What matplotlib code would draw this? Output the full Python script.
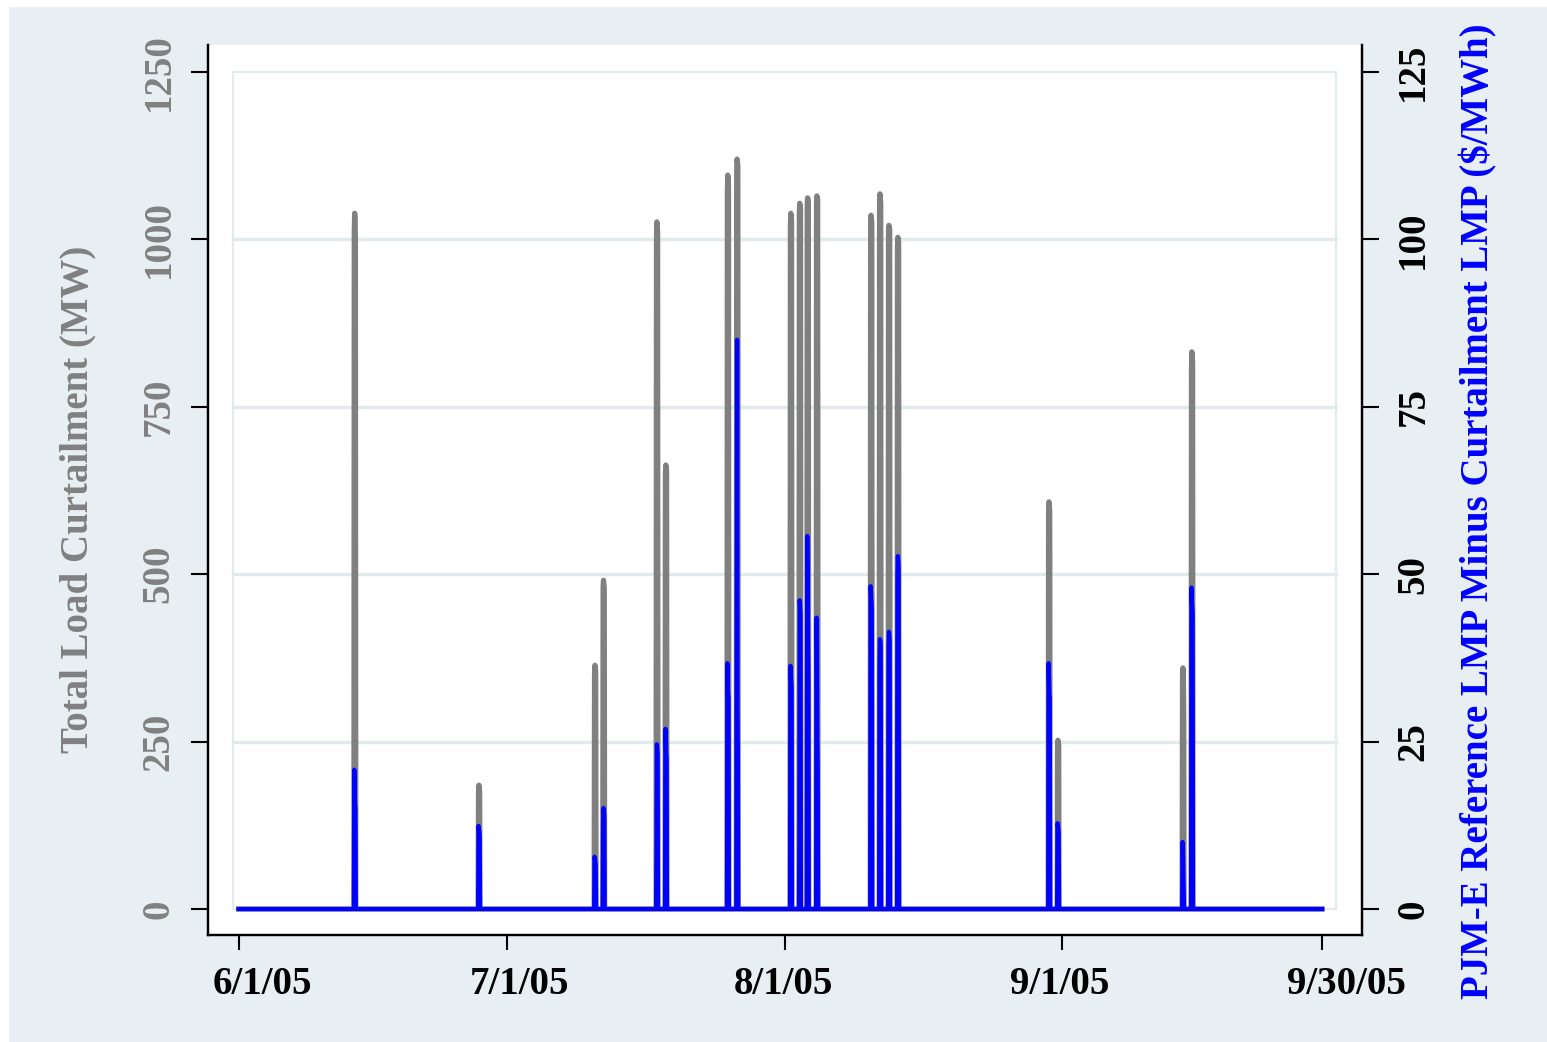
import matplotlib
matplotlib.use("Agg")
import matplotlib.pyplot as plt
import matplotlib.transforms as mtransforms
from matplotlib.patches import Rectangle
import pandas as pd

# hourly load curtailment events, summer 2005
event_start = ['2005-06-13 22:00', '2005-06-27 19:00', '2005-07-10 18:00', '2005-07-11 17:00',
               '2005-07-17 16:00', '2005-07-18 16:00', '2005-07-25 14:00', '2005-07-26 15:00',
               '2005-08-01 15:00', '2005-08-02 15:00', '2005-08-03 12:00', '2005-08-04 13:00',
               '2005-08-10 14:00', '2005-08-11 14:00', '2005-08-12 14:00', '2005-08-13 14:00',
               '2005-08-30 11:00', '2005-08-31 11:00', '2005-09-14 10:00', '2005-09-15 10:00']

curtail_mw = [[1010, 1039, 1030, 1000], [170, 185, 180, 175], [350, 364, 360, 355], [480, 491, 485, 478],
              [1000, 1026, 1020, 1010], [650, 663, 660, 655], [1070, 1096, 1090, 1080], [1100, 1120, 1115, 1110],
              [1020, 1039, 1035, 1030], [1040, 1054, 1050, 1045], [1050, 1062, 1060, 1055], [1055, 1065, 1062, 1060],
              [1020, 1036, 1030, 1025], [1050, 1068, 1060, 1055], [1010, 1021, 1018, 1015], [990, 1003, 1000, 995],
              [590, 608, 600, 595], [240, 252, 248, 245], [350, 360, 355, 300], [805, 832, 825, 815]]

lmp_diff = [[20.8, 17, 15.5, 15], [12.4, 12, 11.5, 11], [7.8, 7.5, 7.0, 6.8], [13, 15.1, 14.5, 14],
            [8.5, 24.6, 24, 23], [26.9, 26, 23, 22.7], [36.7, 33, 32, 31.7], [37.2, 85.0, 30, 24],
            [36.3, 35, 34, 33], [9.9, 46.1, 45, 44], [55.7, 50, 40, 34.2], [43.5, 40, 25, 22],
            [48.2, 47, 46, 45], [36.4, 40.3, 40, 39], [39, 41.4, 41, 40], [50, 52.7, 52, 51],
            [36.7, 34, 32, 31.5], [12.8, 12.5, 12, 11.5], [10.0, 9, 5, 2.8], [48.0, 46, 45, 44.2]]

tick_dates = ['2005-06-01', '2005-07-01', '2005-08-01', '2005-09-01', '2005-09-30']
tick_labels = ['6/1/05', '7/1/05', '8/1/05', '9/1/05', '9/30/05']
# the date labels sit a little off their tick marks (pixels)
label_shift = [24, 12, -1, -3, 24]

hours = pd.date_range('2005-06-01 00:00', '2005-09-30 00:00', freq='h')
mw = pd.Series(0.0, index=hours)
lmp = pd.Series(0.0, index=hours)
for s, g, b in zip(event_start, curtail_mw, lmp_diff):
    idx = pd.date_range(s, periods=len(g), freq='h')
    mw[idx] = g
    lmp[idx] = b

bg = '#e8eff2'
grey = '#808080'
blue = '#0000ff'
serif = ['Liberation Serif', 'DejaVu Serif']
fs = 28

fig = plt.figure(figsize=(15.47, 10.42), dpi=100, facecolor=bg)
fig.patches.append(Rectangle((0, 1 - 6 / 1042), 1, 6 / 1042, transform=fig.transFigure, color='white'))
fig.patches.append(Rectangle((0, 0), 8 / 1547, 1, transform=fig.transFigure, color='white'))

ax = fig.add_axes([208 / 1547, 1 - 935 / 1042, 1154 / 1547, 890 / 1042])
ax.set_facecolor('white')

t0 = pd.Timestamp('2005-06-01')
ax.set_xlim(t0 - pd.Timedelta(days=3.42), t0 + pd.Timedelta(days=125.46))
ax.set_ylim(-38.8, 1290.3)

# plot region outline and grid
x_in0 = t0 - pd.Timedelta(days=0.63)
x_in1 = t0 + pd.Timedelta(days=122.56)
for v in [250, 500, 750, 1000]:
    ax.plot([x_in0, x_in1], [v, v], color='#e1eaed', lw=2.4, zorder=1)
ax.plot([x_in0, x_in1, x_in1, x_in0, x_in0], [0, 0, 1250, 1250, 0], color='#e1eaed', lw=1.5, zorder=1)

ax.plot(mw.index, mw.values, color=grey, lw=3.8, solid_joinstyle='round', zorder=2)

ax2 = ax.twinx()
ax2.set_ylim(-3.88, 129.03)
ax2.plot(lmp.index, lmp.values, color=blue, lw=3.1, solid_joinstyle='round')

for a in (ax, ax2):
    a.spines['top'].set_visible(False)
    for sp in ('left', 'right', 'bottom'):
        a.spines[sp].set_linewidth(1.6)
        a.spines[sp].set_color('black')
ax2.patch.set_visible(False)

ax.set_xticks(pd.to_datetime(tick_dates))
ax.set_xticklabels(tick_labels)
ax.set_yticks([0, 250, 500, 750, 1000, 1250])
ax2.set_yticks([0, 25, 50, 75, 100, 125])

ax.tick_params(axis='x', length=11, width=1.5, pad=11, labelsize=fs)
ax.tick_params(axis='y', length=12, width=1.5, pad=10, labelsize=fs, labelcolor=grey, labelrotation=90)
ax2.tick_params(axis='y', length=12, width=1.5, pad=12, labelsize=fs, labelcolor='black', labelrotation=90)

for lab, dx in zip(ax.get_xticklabels(), label_shift):
    lab.set_fontfamily(serif)
    lab.set_fontweight('bold')
    lab.set_transform(lab.get_transform() +
                      mtransforms.ScaledTranslation(dx / 100, 0, fig.dpi_scale_trans))
for lab in ax.get_yticklabels() + ax2.get_yticklabels():
    lab.set_fontfamily(serif)
    lab.set_fontweight('bold')
    lab.set_va('center')

ax.set_ylabel('Total Load Curtailment (MW)', color=grey, fontsize=fs, fontweight='bold',
              family=serif, va='center')
ax.yaxis.set_label_coords(-0.1127, 0.489)
ax2.set_ylabel('PJM-E Reference LMP Minus Curtailment LMP ($/MWh)', color=blue, fontsize=fs,
               fontweight='bold', family=serif, rotation=90, va='center')
ax2.yaxis.set_label_coords(1.1005, 0.476)

fig.savefig('out.png', dpi=100, facecolor=bg)
